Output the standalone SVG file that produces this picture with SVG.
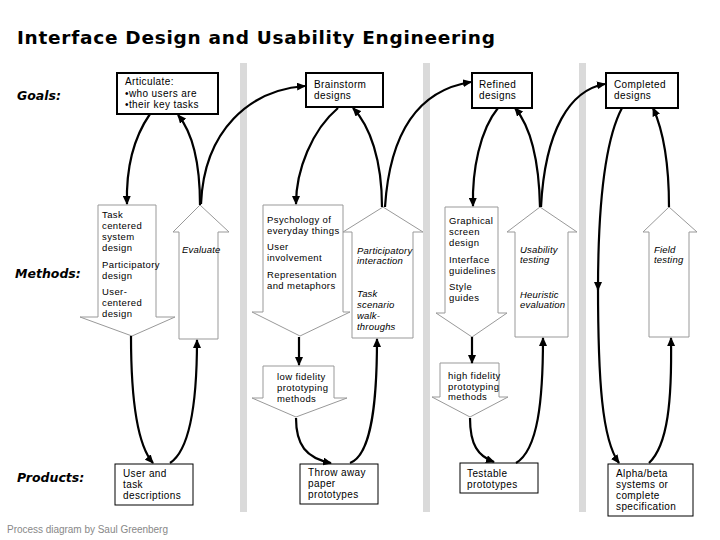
<svg xmlns="http://www.w3.org/2000/svg" width="720" height="540" viewBox="0 0 720 540">
<style>
.bar{fill:#dadada}
.box{fill:#fff;stroke:#000;stroke-width:2}
.pbox{fill:#fff;stroke:#000;stroke-width:1}
.blk{fill:#fff;stroke:#999;stroke-width:1}
.t{font-family:"Liberation Sans",Arial,sans-serif;font-size:10px;letter-spacing:0.4px;fill:#000}
.m{font-family:"Liberation Sans",Arial,sans-serif;font-size:9.5px;letter-spacing:0.4px;fill:#000}
.i{font-family:"Liberation Sans",Arial,sans-serif;font-size:9.5px;font-style:italic;letter-spacing:0.2px;fill:#000}
.lab{font-family:"DejaVu Sans",Verdana,sans-serif;font-size:12.5px;font-weight:bold;font-style:italic;fill:#000}
.title{font-family:"DejaVu Sans",Verdana,sans-serif;font-size:18.5px;font-weight:bold;fill:#000}
.foot{font-family:"Liberation Sans",Arial,sans-serif;font-size:10px;fill:#888}
.c{fill:none;stroke:#000;stroke-width:2.2}
</style>
<defs>
<marker id="ah" markerWidth="9" markerHeight="8" refX="8" refY="4" orient="auto" markerUnits="userSpaceOnUse">
<path d="M0,0 L9,4 L0,8 z" fill="#000"/>
</marker>
</defs>
<rect width="720" height="540" fill="#fff"/>
<text class="title" x="17" y="44" textLength="478" lengthAdjust="spacing">Interface Design and Usability Engineering</text>
<g id="bars">
<rect class="bar" x="240" y="63" width="7" height="449"/>
<rect class="bar" x="423" y="63" width="7" height="449"/>
<rect class="bar" x="579" y="63" width="7" height="449"/>
</g>
<text class="lab" x="17" y="100">Goals:</text>
<text class="lab" x="15" y="278">Methods:</text>
<text class="lab" x="17" y="482">Products:</text>
<text class="foot" x="7" y="533" textLength="161" lengthAdjust="spacing">Process diagram by Saul Greenberg</text>

<g id="articulate">
<rect class="box" x="117" y="73" width="101" height="41"/>
<text class="t" x="125" y="85">Articulate:</text>
<text class="t" x="125" y="97">•who users are</text>
<text class="t" x="125" y="108">•their key tasks</text>
</g>
<g id="brainstorm">
<rect class="box" x="306" y="73" width="77" height="34"/>
<text class="t" x="314" y="88">Brainstorm</text>
<text class="t" x="314" y="99">designs</text>
</g>
<g id="refined">
<rect class="box" x="472" y="73" width="60" height="35"/>
<text class="t" x="479" y="88">Refined</text>
<text class="t" x="479" y="99">designs</text>
</g>
<g id="completed">
<rect class="box" x="606" y="73" width="72" height="35"/>
<text class="t" x="614" y="88">Completed</text>
<text class="t" x="614" y="99">designs</text>
</g>

<g id="method1">
<polygon class="blk" points="98,205 156,205 156,317 175,317 132,336 80,317 98,317"/>
<text class="m" x="102" y="218">Task</text>
<text class="m" x="102" y="229">centered</text>
<text class="m" x="102" y="240">system</text>
<text class="m" x="102" y="251">design</text>
<text class="m" x="102" y="268">Participatory</text>
<text class="m" x="102" y="279">design</text>
<text class="m" x="102" y="295">User-</text>
<text class="m" x="102" y="306">centered</text>
<text class="m" x="102" y="317">design</text>
</g>
<g id="evaluate">
<polygon class="blk" points="179,339 179,232 173,232 200,205 229,232 218,232 218,339"/>
<text class="i" x="182" y="253">Evaluate</text>
</g>
<g id="method2">
<polygon class="blk" points="263,205 343,205 343,312 350,312 300,336 252,312 263,312"/>
<text class="m" x="267" y="223">Psychology of</text>
<text class="m" x="267" y="234">everyday things</text>
<text class="m" x="267" y="250">User</text>
<text class="m" x="267" y="261">involvement</text>
<text class="m" x="267" y="278">Representation</text>
<text class="m" x="267" y="289">and metaphors</text>
</g>
<g id="participatory">
<polygon class="blk" points="352,338 352,232 343,232 383,207 423,232 413,232 413,338"/>
<text class="i" x="357" y="254">Participatory</text>
<text class="i" x="357" y="264">interaction</text>
<text class="i" x="357" y="297">Task</text>
<text class="i" x="357" y="308">scenario</text>
<text class="i" x="357" y="319">walk-</text>
<text class="i" x="357" y="330">throughs</text>
</g>
<g id="method3">
<polygon class="blk" points="445,207 498,207 498,313 507,313 472,337 436,313 445,313"/>
<text class="m" x="449" y="224">Graphical</text>
<text class="m" x="449" y="235">screen</text>
<text class="m" x="449" y="246">design</text>
<text class="m" x="449" y="263">Interface</text>
<text class="m" x="449" y="274">guidelines</text>
<text class="m" x="449" y="290">Style</text>
<text class="m" x="449" y="301">guides</text>
</g>
<g id="usability">
<polygon class="blk" points="515,337 515,232 507,232 540,207 577,232 568,232 568,337"/>
<text class="i" x="520" y="253">Usability</text>
<text class="i" x="520" y="263">testing</text>
<text class="i" x="520" y="298">Heuristic</text>
<text class="i" x="520" y="308">evaluation</text>
</g>
<g id="field">
<polygon class="blk" points="649,337 649,232 643,232 669,207 697,232 689,232 689,337"/>
<text class="i" x="654" y="253">Field</text>
<text class="i" x="654" y="263">testing</text>
</g>
<g id="lowfi">
<polygon class="blk" points="263,366 334,366 334,398 347,398 296,417 252,398 263,398"/>
<text class="m" x="277" y="380">low fidelity</text>
<text class="m" x="277" y="391">prototyping</text>
<text class="m" x="277" y="402">methods</text>
</g>
<g id="hifi">
<polygon class="blk" points="440,363 499,363 499,397 508,397 470,417 432,397 440,397"/>
<text class="m" x="448" y="379">high fidelity</text>
<text class="m" x="448" y="390">prototyping</text>
<text class="m" x="448" y="400">methods</text>
</g>

<g id="usertask">
<rect class="pbox" x="115" y="464" width="78" height="41"/>
<text class="t" x="123" y="477">User and</text>
<text class="t" x="123" y="488">task</text>
<text class="t" x="123" y="499">descriptions</text>
</g>
<g id="throwaway">
<rect class="pbox" x="300" y="464" width="78" height="40"/>
<text class="t" x="308" y="476">Throw away</text>
<text class="t" x="308" y="487">paper</text>
<text class="t" x="308" y="498">prototypes</text>
</g>
<g id="testable">
<rect class="pbox" x="460" y="463" width="78" height="30"/>
<text class="t" x="467" y="477">Testable</text>
<text class="t" x="467" y="488">prototypes</text>
</g>
<g id="alphabeta">
<rect class="pbox" x="608" y="464" width="85" height="52"/>
<text class="t" x="616" y="477">Alpha/beta</text>
<text class="t" x="616" y="488">systems or</text>
<text class="t" x="616" y="499">complete</text>
<text class="t" x="616" y="510">specification</text>
</g>

<g id="connectors">
<path class="c" d="M150,114 C132,140 126,170 127,204" marker-end="url(#ah)"/>
<path class="c" d="M200,205 C200,160 192,132 178,115" marker-end="url(#ah)"/>
<path class="c" d="M201,204 C204,130 250,90 305,86" marker-end="url(#ah)"/>
<path class="c" d="M338,108 C312,130 296,170 296,204" marker-end="url(#ah)"/>
<path class="c" d="M382,207 C382,160 370,126 353,108" marker-end="url(#ah)"/>
<path class="c" d="M385,207 C390,130 420,90 471,82" marker-end="url(#ah)"/>
<path class="c" d="M498,108 C480,130 472,170 473,206" marker-end="url(#ah)"/>
<path class="c" d="M540,207 C539,160 530,126 515,108" marker-end="url(#ah)"/>
<path class="c" d="M541,207 C545,130 570,90 605,84" marker-end="url(#ah)"/>
<path class="c" d="M622,108 C605,140 598,200 598,290" marker-end="url(#ah)"/>
<path class="c" d="M598,285 C598,380 602,440 619,463" marker-end="url(#ah)"/>
<path class="c" d="M669,207 C669,160 663,130 653,108" marker-end="url(#ah)"/>
<path class="c" d="M131,336 C131,400 137,445 153,463" marker-end="url(#ah)"/>
<path class="c" d="M170,463 C190,450 197,400 197,340" marker-end="url(#ah)"/>
<path class="c" d="M299,337 L299,365" marker-end="url(#ah)"/>
<path class="c" d="M296,418 C296,445 306,458 331,463" marker-end="url(#ah)"/>
<path class="c" d="M350,463 C372,455 377,400 377,339" marker-end="url(#ah)"/>
<path class="c" d="M472,337 L472,363" marker-end="url(#ah)"/>
<path class="c" d="M470,418 C470,445 478,456 494,462" marker-end="url(#ah)"/>
<path class="c" d="M516,463 C538,450 543,400 543,338" marker-end="url(#ah)"/>
<path class="c" d="M649,463 C668,445 672,400 671,338" marker-end="url(#ah)"/>
</g>
</svg>
